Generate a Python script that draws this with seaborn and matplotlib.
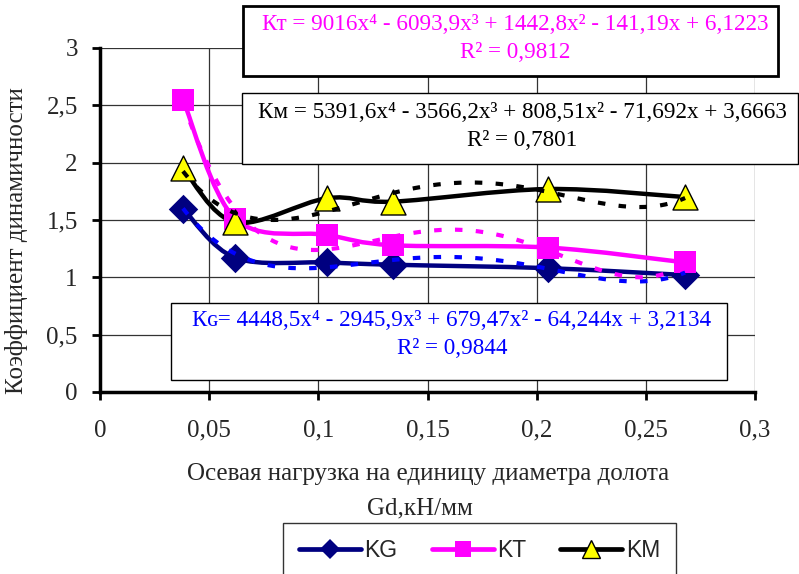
import numpy as np
import matplotlib
matplotlib.use("Agg")
import matplotlib.pyplot as plt
import seaborn as sns
from matplotlib.path import Path
from matplotlib.patches import PathPatch, Rectangle
from matplotlib.lines import Line2D

# data
gd = [0.038, 0.062, 0.104, 0.134, 0.205, 0.268]
kg = [1.60, 1.17, 1.13, 1.11, 1.08, 1.02]
kt = [2.55, 1.51, 1.37, 1.28, 1.26, 1.13]
km = [1.95, 1.48, 1.69, 1.66, 1.77, 1.70]

# trend line coefficients (x^4 .. x^0) as printed on the chart
coef_kg = [4448.5, -2945.9, 679.47, -64.244, 3.2134]
coef_kt = [9016, -6093.9, 1442.8, -141.19, 6.1223]
coef_km = [5391.6, -3566.2, 808.51, -71.692, 3.6663]

eq_kg = "Кɢ= 4448,5x⁴ - 2945,9x³ + 679,47x² - 64,244x + 3,2134"
eq_kt = "Кт = 9016x⁴ - 6093,9x³ + 1442,8x² - 141,19x + 6,1223"
eq_km = "Км = 5391,6x⁴ - 3566,2x³ + 808,51x² - 71,692x + 3,6663"
r2_kg = "R² = 0,9844"
r2_kt = "R² = 0,9812"
r2_km = "R² = 0,7801"

series = [("KG", kg, "#000080", "D", 15, "#000080", coef_kg, "#0000FF"),
          ("KT", kt, "#FF00FF", "s", 16, "#FF00FF", coef_kt, "#FF00FF"),
          ("KM", km, "black", "^", 18, "#FFFF00", coef_km, "black")]

sns.set_theme(style="white")
serif = ["Liberation Serif", "DejaVu Serif"]
plt.rcParams["font.family"] = serif

fig = plt.figure(figsize=(7.99, 5.74), dpi=100)
ax = fig.add_axes([100 / 799, 1 - 392 / 574, 655 / 799, 344 / 574])


def smooth_path(xs, ys, t=1 / 6):
    p = np.column_stack([xs, ys])
    n = len(p)
    verts = [p[0]]
    codes = [Path.MOVETO]
    for i in range(n - 1):
        p0 = p[i - 1] if i > 0 else p[i]
        p3 = p[i + 2] if i + 2 < n else p[i + 1]
        verts += [p[i] + (p[i + 1] - p0) * t, p[i + 1] - (p3 - p[i]) * t, p[i + 1]]
        codes += [Path.CURVE4] * 3
    return Path(verts, codes)


handles = []
for name, vals, col, mk, ms, mfc, coef, tcol in series:
    ax.add_patch(PathPatch(smooth_path(gd, vals), fill=False, ec=col, lw=3.2,
                           zorder=3, capstyle="round", joinstyle="round"))
    sns.scatterplot(x=gd, y=vals, marker=mk, s=ms ** 2, color=mfc,
                    edgecolor=col if mk != "^" else "black",
                    linewidth=1 if mk == "^" else 0, zorder=4, ax=ax, legend=False)
    handles.append(Line2D([], [], color=col, lw=3.4, marker=mk,
                          markersize=ms * 0.7, markerfacecolor=mfc,
                          markeredgecolor="black" if mk == "^" else col,
                          markeredgewidth=1 if mk == "^" else 0))

for name, vals, col, mk, ms, mfc, coef, tcol in series:
    xt = np.linspace(gd[0], gd[-1], 200)
    sns.lineplot(x=xt, y=np.polyval(coef, xt), color=tcol, lw=3,
                 linestyle=(0, (1.8, 3.2)), zorder=5, ax=ax)

ax.set_xlim(0, 0.3)
ax.set_ylim(0, 3)
ax.set_xticks(np.arange(0, 0.301, 0.05))
ax.set_yticks(np.arange(0, 3.01, 0.5))
ax.set_xticklabels(["0", "0,05", "0,1", "0,15", "0,2", "0,25", "0,3"])
ax.set_yticklabels(["0", "0,5", "1", "1,5", "2", "2,5", "3"])
ax.tick_params(axis="both", labelsize=18, direction="out", length=6, width=2,
               color="black", bottom=True, left=True)
ax.tick_params(axis="x", pad=14)
ax.tick_params(axis="y", pad=10)
ax.grid(True, color="#333333", lw=0.9)
for s in ["top", "right"]:
    ax.spines[s].set_visible(False)
for s in ["left", "bottom"]:
    ax.spines[s].set_color("black")
    ax.spines[s].set_linewidth(2.5)

fig.text(428 / 799, 1 - 474 / 574, "Осевая нагрузка на единицу диаметра долота",
         fontsize=18, ha="center", va="center")
fig.text(420 / 799, 1 - 508 / 574, "Gd,кН/мм", fontsize=18, ha="center", va="center")
fig.text(17 / 799, 1 - 241 / 574, "Коэффициент динамичности", fontsize=18,
         rotation=90, ha="center", va="center")


def eq_box(x0, y0, x1, y1, lw, line1, line2, ty1, ty2, cx, color):
    fig.add_artist(Rectangle((x0 / 799, 1 - y1 / 574), (x1 - x0) / 799, (y1 - y0) / 574,
                             transform=fig.transFigure, fc="white", ec="black",
                             lw=lw, zorder=6))
    fig.text(cx / 799, 1 - ty1 / 574, line1, color=color, fontsize=16.7,
             ha="center", va="center", zorder=7, family=serif)
    fig.text(cx / 799, 1 - ty2 / 574, line2, color=color, fontsize=16.7,
             ha="center", va="center", zorder=7, family=serif)


eq_box(243, 6, 778, 76, 2, eq_kt, r2_kt, 25, 53, 515, "#FF00FF")
eq_box(242, 93, 798, 164, 1, eq_km, r2_km, 112, 141, 522, "black")
eq_box(171, 303, 727, 380, 1, eq_kg, r2_kg, 321, 349, 452, "#0000FF")

leg = fig.legend(handles, ["KG", "KT", "KM"], ncol=3, loc="upper left",
                 bbox_to_anchor=(283 / 799, 1 - 523 / 574, 393 / 799, 0),
                 mode="expand", frameon=True, fancybox=False, handlelength=2.7,
                 handletextpad=0.15, columnspacing=1.0, borderaxespad=0,
                 borderpad=0.7,
                 prop={"family": "Liberation Sans", "size": 16.5})
leg.get_frame().set_edgecolor("black")
leg.get_frame().set_linewidth(1)

plt.savefig("out.png", dpi=100)
